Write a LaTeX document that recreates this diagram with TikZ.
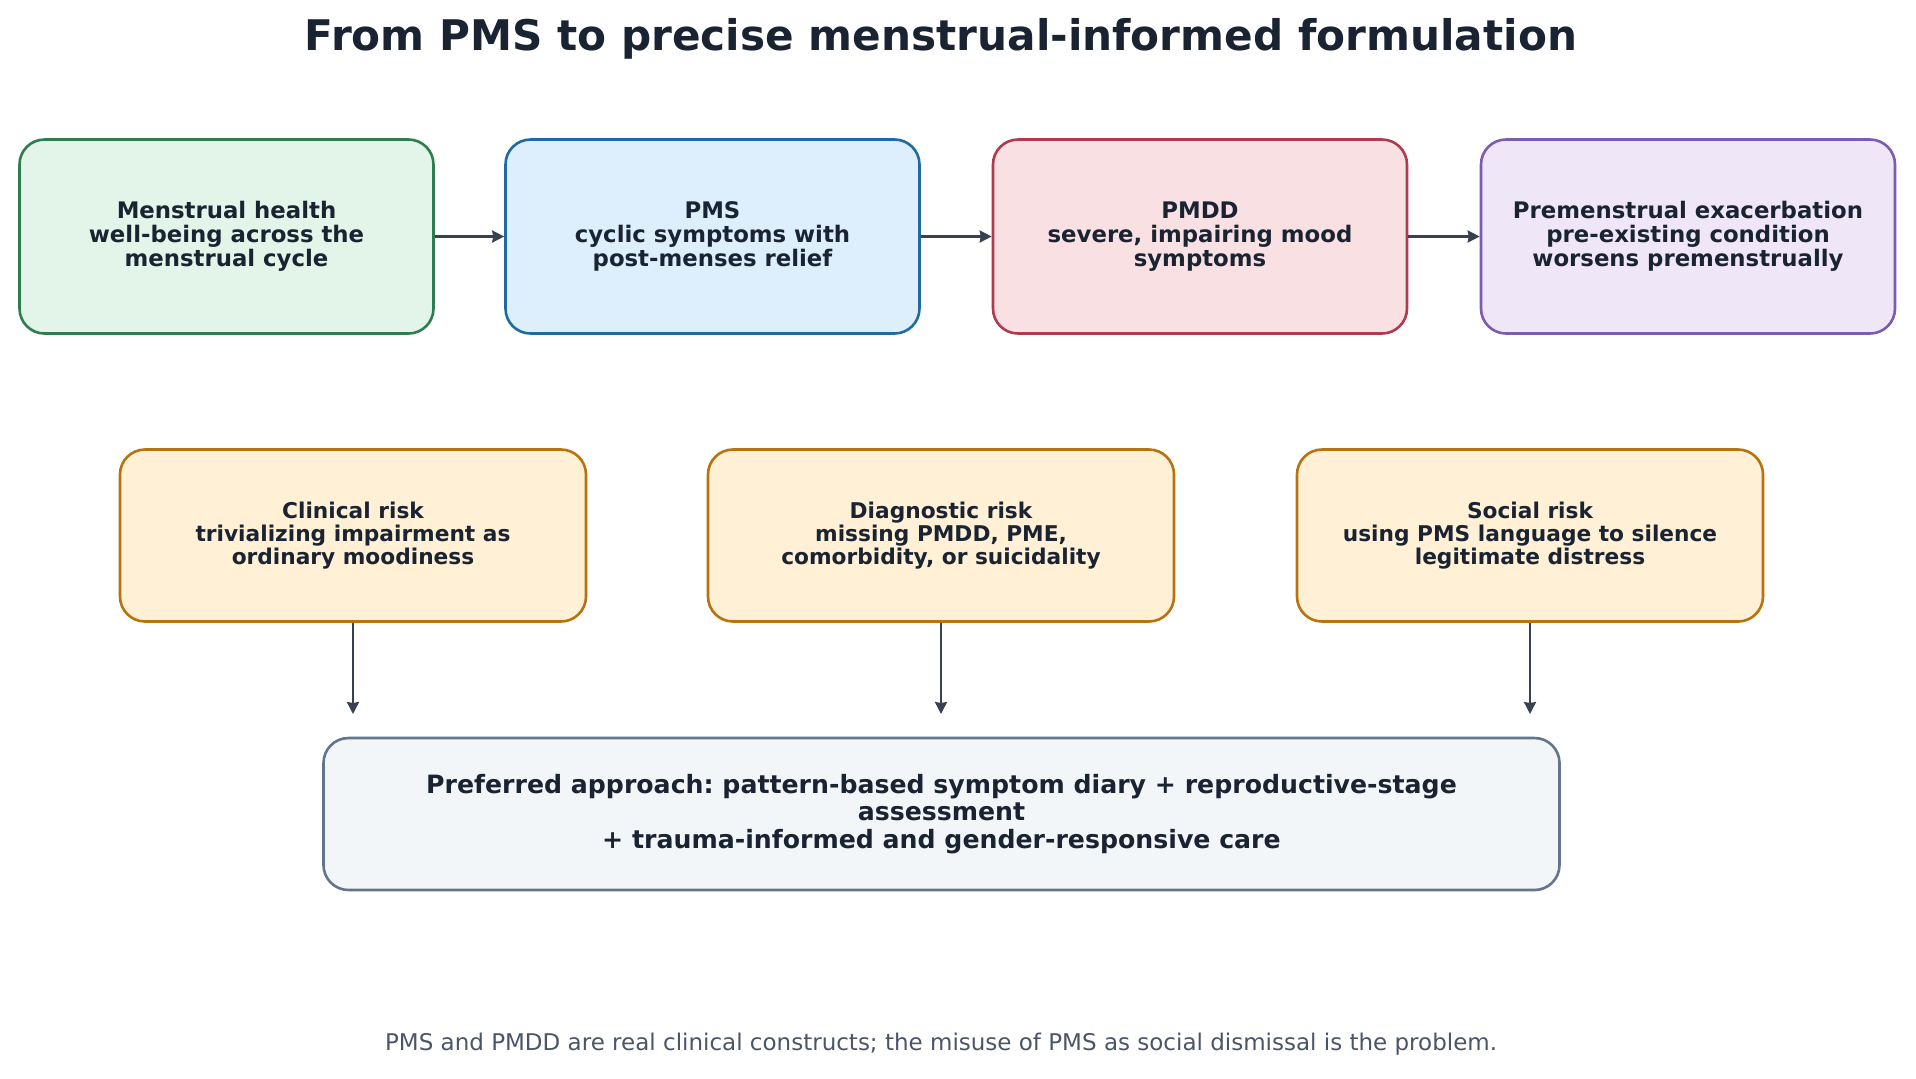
\documentclass[tikz,border=0pt]{standalone}
\usepackage{fontspec}
\setmainfont{DejaVu Sans}
\usetikzlibrary{arrows.meta}
\frenchspacing
\definecolor{txt}{HTML}{1A2332}
\definecolor{arr}{HTML}{374151}
\definecolor{gfill}{HTML}{E3F4E8}\definecolor{gline}{HTML}{2E7D4F}
\definecolor{bfill}{HTML}{DDEEFC}\definecolor{bline}{HTML}{1F6AA0}
\definecolor{rfill}{HTML}{F9E0E3}\definecolor{rline}{HTML}{B03A4E}
\definecolor{pfill}{HTML}{EFE7F8}\definecolor{pline}{HTML}{7A5CB0}
\definecolor{ofill}{HTML}{FFF0D6}\definecolor{oline}{HTML}{B8730F}
\definecolor{sfill}{HTML}{F3F6F9}\definecolor{sline}{HTML}{64748B}
\definecolor{foot}{HTML}{4A5568}
\tikzset{
  box/.style={rounded corners=12.5pt, line width=1.3pt, align=center, text=txt,
    font=\bfseries\fontsize{11.4}{11.9}\selectfont, inner sep=0pt},
  topbox/.style={box, minimum width=207pt, minimum height=97pt},
  midbox/.style={box, minimum width=233pt, minimum height=86pt, fill=ofill, draw=oline,
    font=\bfseries\fontsize{10.85}{11.3}\selectfont},
  conn/.style={draw=arr, line width=1.2pt, -{Stealth[length=6pt,width=6pt,inset=0.5pt]}},
}
\begin{document}
\begin{tikzpicture}[x=0.5pt,y=-0.5pt]
\useasboundingbox (0,0) rectangle (1916,1078);
\node[font=\bfseries\fontsize{21.1}{25}\selectfont, text=txt] (title) at (941,39) {From PMS to precise menstrual-informed formulation};

\node[topbox, fill=gfill, draw=gline] (a) at (226.5,236.5) {Menstrual health\\well-being across the\\menstrual cycle};
\node[topbox, fill=bfill, draw=bline] (b) at (712.5,236.5) {PMS\\cyclic symptoms with\\post-menses relief};
\node[topbox, fill=rfill, draw=rline] (c) at (1200,236.5) {PMDD\\severe, impairing mood\\symptoms};
\node[topbox, fill=pfill, draw=pline] (d) at (1688,236.5) {Premenstrual exacerbation\\pre-existing condition\\worsens premenstrually};

\draw[conn] (a) -- (b);
\draw[conn] (b) -- (c);
\draw[conn] (c) -- (d);

\node[midbox] (m1) at (353,535.5) {Clinical risk\\trivializing impairment as\\ordinary moodiness};
\node[midbox] (m2) at (941,535.5) {Diagnostic risk\\missing PMDD, PME,\\comorbidity, or suicidality};
\node[midbox] (m3) at (1530,535.5) {Social risk\\using PMS language to silence\\legitimate distress};

\coordinate (e1) at (353,714);
\coordinate (e2) at (941,714);
\coordinate (e3) at (1530,714);
\draw[conn] (m1) -- (e1);
\draw[conn] (m2) -- (e2);
\draw[conn] (m3) -- (e3);

\node[box, fill=sfill, draw=sline, minimum width=618pt, minimum height=76pt,
  font=\bfseries\fontsize{12.6}{13.75}\selectfont] (p) at (941.5,814)
  {Preferred approach: pattern-based symptom diary + reproductive-stage\\assessment\\+ trauma-informed and gender-responsive care};

\node[font=\fontsize{11.5}{13}\selectfont, text=foot] (f) at (941,1044) {PMS and PMDD are real clinical constructs; the misuse of PMS as social dismissal is the problem.};
\end{tikzpicture}
\end{document}
